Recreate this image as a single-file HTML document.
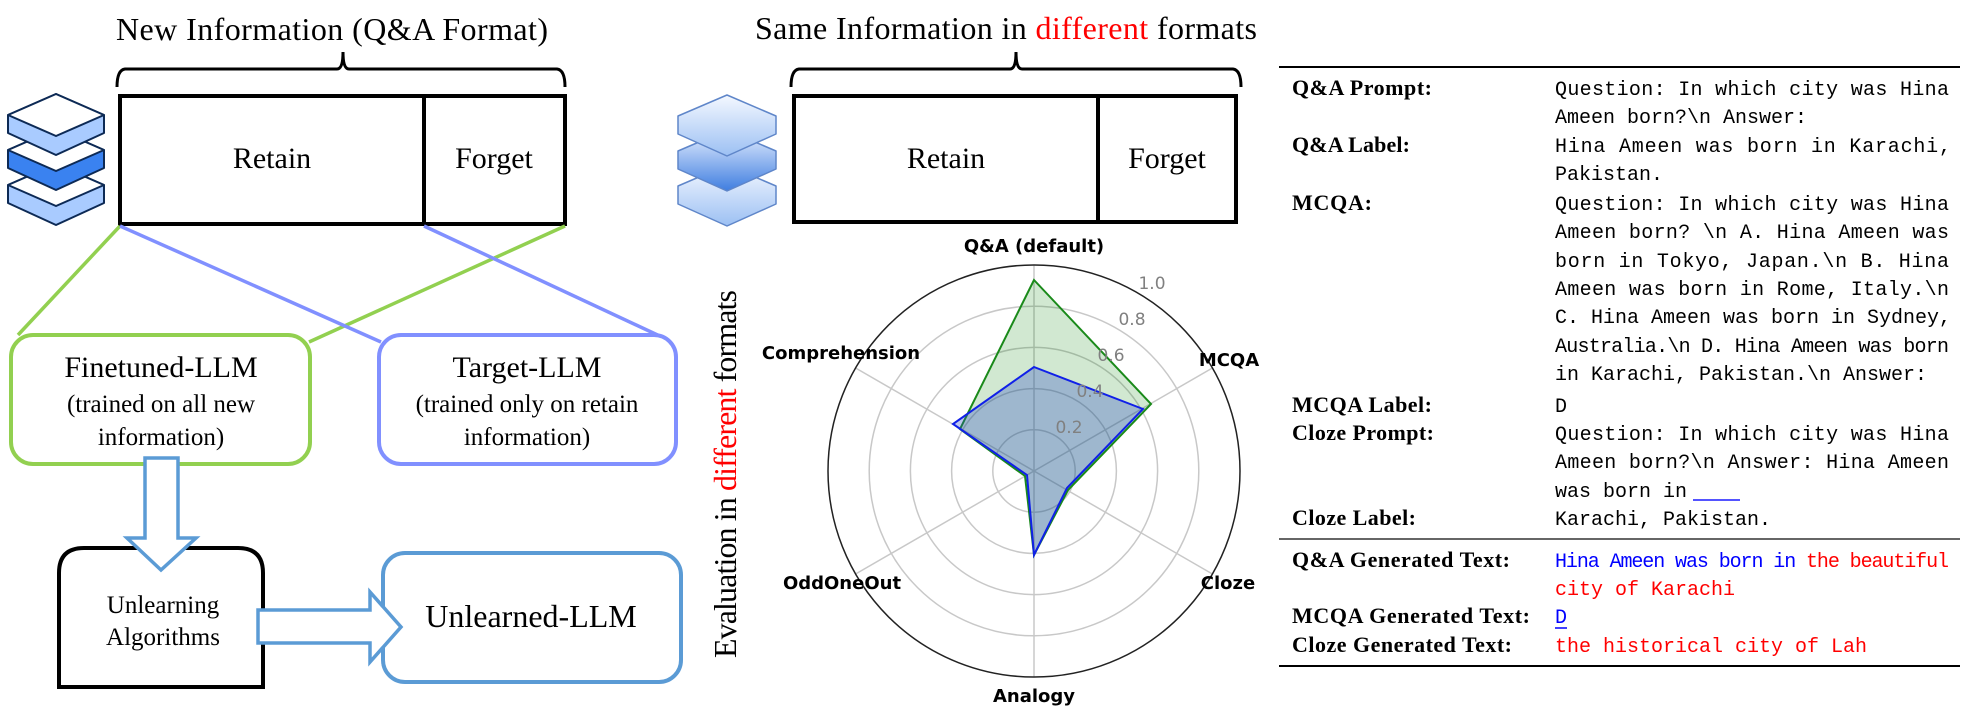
<!DOCTYPE html>
<html><head><meta charset="utf-8"><style>
html,body{margin:0;padding:0;background:#fff;width:1968px;height:709px;overflow:hidden}
svg{display:block}
.serif{font-family:"Liberation Serif",serif}
.mono{font-family:"Liberation Mono",monospace;font-size:20px}
.lab{font-family:"Liberation Serif",serif;font-weight:bold;font-size:22px}
.ax{font-family:"DejaVu Sans",sans-serif;font-weight:bold;font-size:18px}
.tk{font-family:"DejaVu Sans",sans-serif;font-size:17px;fill:#808080}
</style></head><body>
<svg width="1968" height="709" viewBox="0 0 1968 709" xmlns="http://www.w3.org/2000/svg">
<!-- LEFT TITLE -->
<text class="serif" x="116" y="40" font-size="32" textLength="432">New Information (Q&amp;A Format)</text>
<path d="M117,87 Q117,70 125,69 L337,69 Q343,69 343,52 Q343,69 349,69 L557,69 Q565,70 565,87" fill="none" stroke="#000" stroke-width="3"/>
<!-- icon left -->
<g stroke="#0d2a55" stroke-width="2" stroke-linejoin="round">
 <g transform="translate(0,70)"><path d="M56,94 L104,115 L104,133 L56,155 L8,133 L8,115 Z" fill="#a9cbff"/><path d="M56,94 L104,115 L56,136 L8,115 Z" fill="#fff"/></g>
 <g transform="translate(0,35)"><path d="M56,94 L104,115 L104,133 L56,155 L8,133 L8,115 Z" fill="#3a82f0"/><path d="M56,94 L104,115 L56,136 L8,115 Z" fill="#fff"/></g>
 <g><path d="M56,94 L104,115 L104,133 L56,155 L8,133 L8,115 Z" fill="#a9cbff"/><path d="M56,94 L104,115 L56,136 L8,115 Z" fill="#fff"/></g>
</g>
<rect x="120" y="96" width="445" height="128" fill="none" stroke="#000" stroke-width="4"/>
<line x1="424" y1="96" x2="424" y2="224" stroke="#000" stroke-width="4"/>
<text class="serif" x="272" y="168" font-size="30" text-anchor="middle">Retain</text>
<text class="serif" x="494" y="168" font-size="30" text-anchor="middle">Forget</text>
<!-- connectors -->
<line x1="120" y1="226" x2="18" y2="335" stroke="#92d050" stroke-width="3.5"/>
<line x1="565" y1="226" x2="309" y2="342" stroke="#92d050" stroke-width="3.5"/>
<line x1="120" y1="226" x2="381" y2="342" stroke="#8190ff" stroke-width="3.5"/>
<line x1="424" y1="226" x2="664" y2="338" stroke="#8190ff" stroke-width="3.5"/>
<!-- Finetuned -->
<rect x="11" y="335" width="299" height="129" rx="22" fill="#fff" stroke="#92d050" stroke-width="4"/>
<text class="serif" x="161" y="377" font-size="30" text-anchor="middle">Finetuned-LLM</text>
<text class="serif" x="161" y="412" font-size="25" text-anchor="middle">(trained on all new</text>
<text class="serif" x="161" y="445" font-size="25" text-anchor="middle">information)</text>
<!-- Target -->
<rect x="379" y="335" width="297" height="129" rx="22" fill="#fff" stroke="#8190ff" stroke-width="4"/>
<text class="serif" x="527" y="377" font-size="30" text-anchor="middle">Target-LLM</text>
<text class="serif" x="527" y="412" font-size="25" text-anchor="middle">(trained only on retain</text>
<text class="serif" x="527" y="445" font-size="25" text-anchor="middle">information)</text>
<!-- Unlearning algorithms -->
<path d="M59,687 L59,573 Q59,548 84,548 L238,548 Q263,548 263,573 L263,687 Z" fill="#fff" stroke="#000" stroke-width="4"/>
<text class="serif" x="163" y="613" font-size="25" text-anchor="middle">Unlearning</text>
<text class="serif" x="163" y="645" font-size="25" text-anchor="middle">Algorithms</text>
<!-- down arrow -->
<path d="M145,458 L178,458 L178,538 L196,538 L161,570 L127,538 L145,538 Z" fill="#fff" stroke="#5b9bd5" stroke-width="3.5"/>
<!-- Unlearned -->
<rect x="383" y="553" width="298" height="129" rx="22" fill="#fff" stroke="#5b9bd5" stroke-width="4"/>
<text class="serif" x="531" y="627" font-size="32" text-anchor="middle">Unlearned-LLM</text>
<!-- right arrow -->
<path d="M258,610 L370,610 L370,592 L401,627 L370,662 L370,643 L258,643 Z" fill="#fff" stroke="#5b9bd5" stroke-width="3.5"/>

<!-- MIDDLE TITLE -->
<text class="serif" x="755" y="39" font-size="32" textLength="502">Same Information in <tspan fill="#ff0000">different</tspan> formats</text>
<path d="M791,87 Q791,70 799,69 L1010,69 Q1016,69 1016,52 Q1016,69 1022,69 L1233,69 Q1241,70 1241,87" fill="none" stroke="#000" stroke-width="3"/>
<defs><linearGradient id="g1" x1="0" y1="0" x2="0" y2="1"><stop offset="0" stop-color="#f4f8ff"/><stop offset="1" stop-color="#9cc0f3"/></linearGradient>
<linearGradient id="g2" x1="0" y1="0" x2="0" y2="1"><stop offset="0" stop-color="#e8f0ff"/><stop offset="1" stop-color="#3f7ee0"/></linearGradient></defs>
<g stroke="#5f86c9" stroke-width="1.5" stroke-linejoin="round">
 <g transform="translate(0,70)"><path d="M727,95 L776,116 L776,134 L727,156 L678,134 L678,116 Z" fill="url(#g1)"/></g>
 <g transform="translate(0,35)"><path d="M727,95 L776,116 L776,134 L727,156 L678,134 L678,116 Z" fill="url(#g2)"/></g>
 <g><path d="M727,95 L776,116 L776,134 L727,156 L678,134 L678,116 Z" fill="url(#g1)"/></g>
</g>
<rect x="794" y="96" width="442" height="126" fill="none" stroke="#000" stroke-width="4"/>
<line x1="1098" y1="96" x2="1098" y2="222" stroke="#000" stroke-width="4"/>
<text class="serif" x="946" y="168" font-size="30" text-anchor="middle">Retain</text>
<text class="serif" x="1167" y="168" font-size="30" text-anchor="middle">Forget</text>

<!-- vertical label -->
<text class="serif" font-size="32" transform="translate(736,658) rotate(-90)" textLength="368">Evaluation in <tspan fill="#ff0000">different</tspan> formats</text>

<!-- RADAR -->
<g fill="none">
 <circle cx="1034" cy="471" r="41.2" stroke="#c8c8c8" stroke-width="1.5"/>
 <circle cx="1034" cy="471" r="82.4" stroke="#c8c8c8" stroke-width="1.5"/>
 <circle cx="1034" cy="471" r="123.6" stroke="#c8c8c8" stroke-width="1.5"/>
 <circle cx="1034" cy="471" r="164.8" stroke="#c8c8c8" stroke-width="1.5"/>
 <g stroke="#c8c8c8" stroke-width="1.5">
  <line x1="1034" y1="471" x2="1034" y2="265"/>
  <line x1="1034" y1="471" x2="1034" y2="677"/>
  <line x1="1034" y1="471" x2="1212.4" y2="368"/>
  <line x1="1034" y1="471" x2="1212.4" y2="574"/>
  <line x1="1034" y1="471" x2="855.6" y2="368"/>
  <line x1="1034" y1="471" x2="855.6" y2="574"/>
 </g>
 <circle cx="1034" cy="471" r="206" stroke="#222" stroke-width="1.5"/>
</g>
<polygon points="1034,280 1151,404 1068,490 1034,555 1025,476 960,429" fill="rgba(0,128,0,0.18)" stroke="#1a8a1a" stroke-width="2"/>
<polygon points="1034,367 1143,409 1067,488 1034,555 1027,475 953,424" fill="rgba(40,70,200,0.3)" stroke="#1020e8" stroke-width="2"/>
<text class="tk" x="1152" y="289" text-anchor="middle">1.0</text>
<text class="tk" x="1132" y="325" text-anchor="middle">0.8</text>
<text class="tk" x="1111" y="361" text-anchor="middle">0.6</text>
<text class="tk" x="1090" y="397" text-anchor="middle">0.4</text>
<text class="tk" x="1069" y="433" text-anchor="middle">0.2</text>
<text class="ax" x="1034" y="252" text-anchor="middle">Q&amp;A (default)</text>
<text class="ax" x="1229" y="366" text-anchor="middle">MCQA</text>
<text class="ax" x="1228" y="589" text-anchor="middle">Cloze</text>
<text class="ax" x="1034" y="702" text-anchor="middle">Analogy</text>
<text class="ax" x="841" y="359" text-anchor="middle">Comprehension</text>
<text class="ax" x="842" y="589" text-anchor="middle">OddOneOut</text>

<!-- TABLE -->
<line x1="1279" y1="67" x2="1960" y2="67" stroke="#000" stroke-width="2"/>
<line x1="1279" y1="539" x2="1960" y2="539" stroke="#333" stroke-width="1.5"/>
<line x1="1279" y1="666" x2="1960" y2="666" stroke="#000" stroke-width="2"/>
<text class="lab" x="1292" y="95" textLength="140">Q&amp;A Prompt:</text>
<text class="lab" x="1292" y="152" textLength="118">Q&amp;A Label:</text>
<text class="lab" x="1292" y="210" textLength="80">MCQA:</text>
<text class="lab" x="1292" y="412" textLength="140">MCQA Label:</text>
<text class="lab" x="1292" y="440" textLength="142">Cloze Prompt:</text>
<text class="lab" x="1292" y="525" textLength="124">Cloze Label:</text>
<text class="lab" x="1292" y="567" textLength="218">Q&amp;A Generated Text:</text>
<text class="lab" x="1292" y="623" textLength="238">MCQA Generated Text:</text>
<text class="lab" x="1292" y="652" textLength="220">Cloze Generated Text:</text>
<g class="mono" xml:space="preserve">
<text class="mono" x="1555" y="95" textLength="394">Question:  In which city was Hina</text>
<text class="mono" x="1555" y="123">Ameen born?\n Answer:</text>
<text class="mono" x="1555" y="152" textLength="396">Hina  Ameen  was  born  in  Karachi,</text>
<text class="mono" x="1555" y="180">Pakistan.</text>
<text class="mono" x="1555" y="210" textLength="394">Question:  In which city was Hina</text>
<text class="mono" x="1555" y="238" textLength="394">Ameen born?  \n A. Hina Ameen was</text>
<text class="mono" x="1555" y="267" textLength="394">born  in  Tokyo,  Japan.\n  B.  Hina</text>
<text class="mono" x="1555" y="295" textLength="394">Ameen  was  born  in  Rome,  Italy.\n</text>
<text class="mono" x="1555" y="323" textLength="396">C.  Hina  Ameen  was  born  in  Sydney,</text>
<text class="mono" x="1555" y="352" textLength="394">Australia.\n D. Hina Ameen was born</text>
<text class="mono" x="1555" y="380">in Karachi, Pakistan.\n Answer:</text>
<text class="mono" x="1555" y="412">D</text>
<text class="mono" x="1555" y="440" textLength="394">Question:  In which city was Hina</text>
<text class="mono" x="1555" y="468" textLength="394">Ameen  born?\n  Answer:  Hina  Ameen</text>
<text class="mono" x="1555" y="497">was born in</text>
<line x1="1693" y1="500" x2="1740" y2="500" stroke="#1a1aff" stroke-width="1.5"/>
<text class="mono" x="1555" y="525">Karachi, Pakistan.</text>
<text class="mono" x="1555" y="567" textLength="394"><tspan fill="#0000ff">Hina Ameen was born in </tspan><tspan fill="#ff0000">the beautiful</tspan></text>
<text class="mono" x="1555" y="595" fill="#ff0000">city of Karachi</text>
<text class="mono" x="1555" y="623" fill="#0000ff">D</text>
<line x1="1555" y1="628" x2="1567" y2="628" stroke="#0000ff" stroke-width="1.5"/>
<text class="mono" x="1555" y="652" fill="#ff0000">the historical city of Lah</text>
</g>
</svg>
</body></html>
